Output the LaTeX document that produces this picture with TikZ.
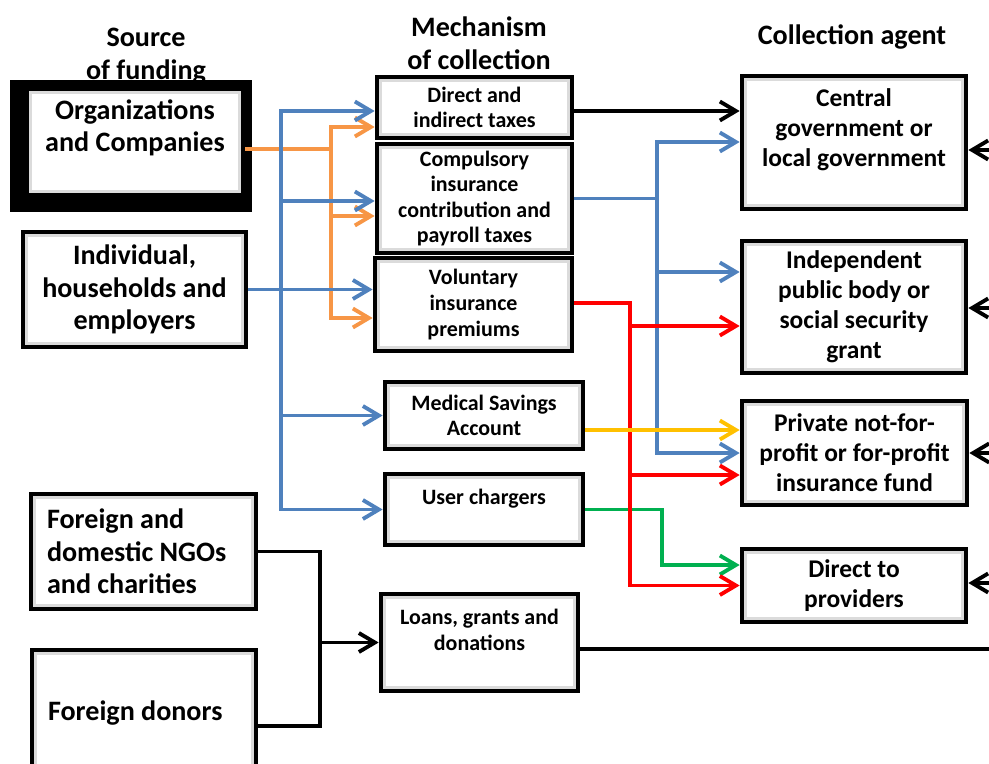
\documentclass[tikz,border=0pt]{standalone}
\usepackage{fontspec}
\setmainfont{Carlito}
\usetikzlibrary{arrows.meta}
\definecolor{flowblue}{HTML}{4F81BD}
\definecolor{floworange}{HTML}{F79646}
\definecolor{flowred}{HTML}{FF0000}
\definecolor{flowyellow}{HTML}{FFC000}
\definecolor{flowgreen}{HTML}{00B050}
\tikzset{
  bevelbox/.style={draw=black, line width=2.7pt, fill=white, inner sep=2pt, align=center,
    path picture={\draw[black!14, line width=6pt]
      (path picture bounding box.south west) rectangle (path picture bounding box.north east);}},
  srcbox/.style={bevelbox, font=\fontsize{16}{18.5}\selectfont\bfseries},
  mechbox/.style={bevelbox, font=\fontsize{12.5}{14.6}\selectfont\bfseries},
  agentbox/.style={bevelbox, font=\fontsize{14.5}{17}\selectfont\bfseries},
  heading/.style={font=\fontsize{16}{19}\selectfont\bfseries, align=center},
  flow/.style={line width=2.2pt},
  flowarrow/.style={flow, -{Straight Barb[length=3.2mm,width=3.8mm]}},
}
\begin{document}
\begin{tikzpicture}[x=0.02cm, y=-0.02cm]
\useasboundingbox (0,0) rectangle (989,763);
\clip (0,0) rectangle (989,763);
% column headings
\node[heading] (hsrc) at (146,56) {Source\\of funding};
\node[heading] (hmech) at (479,43) {Mechanism\\of collection};
\node[heading] (hagent) at (852,37) {Collection agent};
% sources
\fill[black] (10,80) rectangle (252,212);
\node[srcbox, minimum width=4.32cm, minimum height=2.12cm] (orgs) at (135,142) {Organizations\\and Companies\\\mbox{}};
\node[srcbox, minimum width=4.46cm, minimum height=2.3cm] (indiv) at (134.5,289.5) {Individual,\\households and\\employers};
\node[srcbox, align=flush left, text width=3.86cm, inner xsep=0.32cm, minimum height=2.3cm] (ngo) at (143.5,551.5) {Foreign and\\domestic NGOs\\and charities};
\node[srcbox, align=flush left, text width=3.84cm, inner xsep=0.32cm, minimum height=2.52cm] (donors) at (144,713) {Foreign donors};
% mechanisms
\node[mechbox, minimum width=3.9cm, minimum height=1.22cm] (dtax) at (474.5,107.5) {Direct and\\indirect taxes};
\node[mechbox, minimum width=3.9cm, minimum height=2.18cm] (compul) at (474.5,198.5) {Compulsory\\insurance\\contribution and\\payroll taxes};
\node[mechbox, minimum width=3.94cm, minimum height=1.86cm] (volun) at (473.5,304.5) {Voluntary\\insurance\\premiums};
\node[mechbox, minimum width=3.96cm, minimum height=1.34cm] (medic) at (484,415.5) {Medical Savings\\Account};
\node[mechbox, minimum width=3.96cm, minimum height=1.42cm] (user) at (484,509.5) {User chargers\\\mbox{}};
\node[mechbox, minimum width=3.94cm, minimum height=1.94cm] (loans) at (479.5,642.5) {Loans, grants and\\donations\\\mbox{}};
% collection agents
\node[agentbox, minimum width=4.48cm, minimum height=2.66cm] (central) at (854,142.5) {Central\\government or\\local government\\\mbox{}};
\node[agentbox, minimum width=4.48cm, minimum height=2.64cm] (indep) at (854,307) {Independent\\public body or\\social security\\grant};
\node[agentbox, minimum width=4.5cm, minimum height=2.08cm] (private) at (854.5,453) {Private not-for-\\profit or for-profit\\insurance fund};
\node[agentbox, minimum width=4.48cm, minimum height=1.46cm] (dprov) at (854,585.5) {Direct to\\providers};
% bend and edge coordinates
\coordinate (ox) at (331,0);
\coordinate (bx) at (281,0);
\coordinate (kx) at (320,0);
\coordinate (rbx) at (657,0);
\coordinate (rx) at (630,0);
\coordinate (gx) at (662,0);
\coordinate (edge) at (995,0);
% orange
\draw[flowarrow, floworange] (orgs.east |- 0,149) -| (ox |- 0,127) -- (dtax.west |- 0,127);
\draw[flowarrow, floworange] (ox |- 0,149) |- (volun.west |- 0,318);
\draw[flowarrow, floworange] (ox |- 0,216) -- (compul.west |- 0,216);
% blue, left side
\draw[flowarrow, flowblue] (indiv.east) -- (volun.west |- indiv.east);
\draw[flow, flowblue, {Straight Barb[length=3.2mm,width=3.8mm]}-{Straight Barb[length=3.2mm,width=3.8mm]}]
  (dtax.west |- 0,111) -| (bx |- user.west) -- (user.west);
\draw[flowarrow, flowblue] (bx |- 0,201) -- (compul.west |- 0,201);
\draw[flowarrow, flowblue] (bx |- medic.west) -- (medic.west);
% black, left side
\draw[flow] (ngo.east) -| (kx |- 0,726) -- (donors.east |- 0,726);
\draw[flowarrow] (kx |- loans.west) -- (loans.west);
% right side
\draw[flowarrow] (dtax.east |- 0,111) -- (central.west |- 0,111);
\draw[flowarrow, flowblue] (compul.east) -| (rbx |- 0,142) -- (central.west |- 0,142);
\draw[flowarrow, flowblue] (rbx |- compul.east) |- (private.west);
\draw[flowarrow, flowblue] (rbx |- 0,272) -- (indep.west |- 0,272);
\draw[flowarrow, flowgreen] (user.east) -| (gx |- 0,565) -- (dprov.west |- 0,565);
\draw[flowarrow, flowred] (volun.east |- 0,303) -| (rx |- dprov.west) -- (dprov.west);
\draw[flowarrow, flowred] (rx |- 0,326) -- (indep.west |- 0,326);
\draw[flowarrow, flowred] (rx |- 0,475) -- (private.west |- 0,475);
\draw[flowarrow, flowyellow] (medic.east |- 0,430) -- (private.west |- 0,430);
\draw[flow] (loans.east |- 0,649) -- (edge |- 0,649);
\foreach \agent/\ya in {central/150, indep/308, private/453, dprov/583}
  \draw[flowarrow] (edge |- 0,\ya) -- (\agent.east |- 0,\ya);
\end{tikzpicture}
\end{document}
